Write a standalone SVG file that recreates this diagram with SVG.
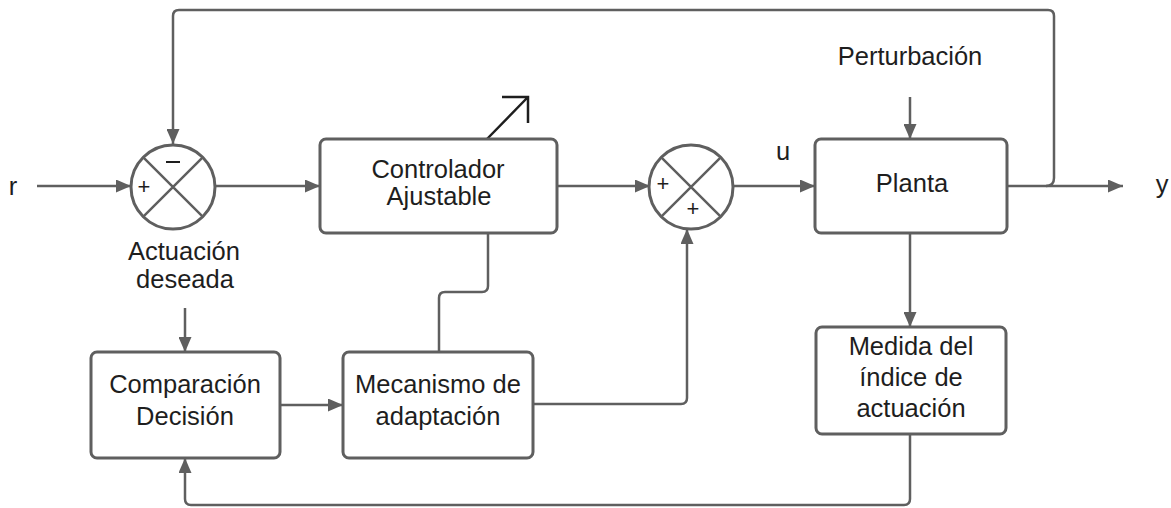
<svg xmlns="http://www.w3.org/2000/svg" width="1171" height="508" viewBox="0 0 1171 508">
<defs>
<style>
.box{fill:#fff;stroke:#5f5f5f;stroke-width:3}
.ln{fill:none;stroke:#5f5f5f;stroke-width:2.5}
.t{font-family:"Liberation Sans",Arial,sans-serif;font-size:25.5px;fill:#1e1e1e;text-anchor:middle}
.s{font-family:"Liberation Sans",Arial,sans-serif;font-size:22px;fill:#1e1e1e;text-anchor:middle}
</style>
<marker id="ah" viewBox="0 0 15 13" refX="15" refY="6.5" markerWidth="15" markerHeight="13" markerUnits="userSpaceOnUse" orient="auto">
<path d="M0,0 L15,6.5 L0,13 Z" fill="#5f5f5f"/>
</marker>
</defs>
<rect width="1171" height="508" fill="#fff"/>
<g id="connectors">
<line class="ln" x1="37" y1="186" x2="131" y2="186" marker-end="url(#ah)"/>
<line class="ln" x1="215" y1="186" x2="320" y2="186" marker-end="url(#ah)"/>
<line class="ln" x1="557" y1="186" x2="650" y2="186" marker-end="url(#ah)"/>
<line class="ln" x1="733" y1="186" x2="815" y2="186" marker-end="url(#ah)"/>
<line class="ln" x1="1007" y1="186" x2="1123" y2="186" marker-end="url(#ah)"/>
<path class="ln" d="M1046 186 Q1054 186 1054 178 L1054 16 Q1054 10 1048 10 L179 10 Q173 10 173 16 L173 144" marker-end="url(#ah)"/>
<line class="ln" x1="910" y1="97" x2="910" y2="139" marker-end="url(#ah)"/>
<line class="ln" x1="910" y1="233" x2="910" y2="327" marker-end="url(#ah)"/>
<path class="ln" d="M910 434 L910 499 Q910 505 904 505 L191 505 Q185 505 185 499 L185 458" marker-end="url(#ah)"/>
<line class="ln" x1="185" y1="308" x2="185" y2="352" marker-end="url(#ah)"/>
<line class="ln" x1="280" y1="405" x2="343" y2="405" marker-end="url(#ah)"/>
<path class="ln" d="M533 404 L681 404 Q687 404 687 398 L687 229" marker-end="url(#ah)"/>
<path class="ln" d="M439 352 L439 298 Q439 292 445 292 L482 292 Q488 292 488 286 L488 233"/>
<path d="M487 139 L528 97 M502 97 L528 97 L528 123" fill="none" stroke="#1e1e1e" stroke-width="2.5"/>
</g>
<g id="sum1">
<circle class="box" cx="173" cy="187" r="42"/>
<path class="ln" d="M143.3 157.3 L202.7 216.7 M202.7 157.3 L143.3 216.7" stroke-width="3"/>
<text class="s" x="144" y="194">+</text>
<path d="M166 162 L180 162" stroke="#1e1e1e" stroke-width="2"/>
</g>
<g id="sum2">
<circle class="box" cx="691" cy="187" r="42"/>
<path class="ln" d="M661.3 157.3 L720.7 216.7 M720.7 157.3 L661.3 216.7" stroke-width="3"/>
<text class="s" x="663" y="191">+</text>
<text class="s" x="693" y="216">+</text>
</g>
<g id="controlador">
<rect class="box" x="320" y="139" width="237" height="94" rx="6"/>
<text class="t" x="438" y="178">Controlador</text>
<text class="t" x="439" y="205">Ajustable</text>
</g>
<g id="planta">
<rect class="box" x="815" y="139" width="192" height="94" rx="6"/>
<text class="t" x="912" y="192">Planta</text>
</g>
<g id="comparacion">
<rect class="box" x="91" y="352" width="189" height="106" rx="6"/>
<text class="t" x="185" y="393">Comparación</text>
<text class="t" x="185" y="425">Decisión</text>
</g>
<g id="mecanismo">
<rect class="box" x="343" y="352" width="190" height="106" rx="6"/>
<text class="t" x="438" y="393">Mecanismo de</text>
<text class="t" x="438" y="425">adaptación</text>
</g>
<g id="medida">
<rect class="box" x="816" y="327" width="190" height="107" rx="6"/>
<text class="t" x="911" y="355">Medida del</text>
<text class="t" x="911" y="386">índice de</text>
<text class="t" x="911" y="417">actuación</text>
</g>
<g id="labels">
<text class="t" x="13" y="195">r</text>
<text class="t" x="1162" y="193">y</text>
<text class="t" x="783" y="160">u</text>
<text class="t" x="910" y="65">Perturbación</text>
<text class="t" x="184" y="260">Actuación</text>
<text class="t" x="185" y="288">deseada</text>
</g>
</svg>
